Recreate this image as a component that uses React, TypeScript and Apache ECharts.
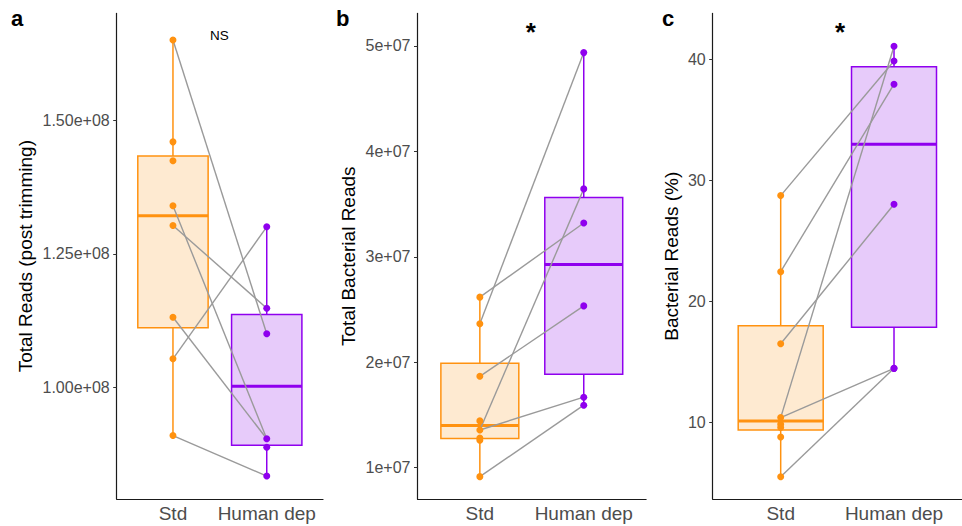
import React, { useEffect, useRef } from "react";
import * as echarts from "echarts";

// ---------- data ----------
const groups = ["Std", "Human dep"];
const groupX = [1, 2];

// panel a: Total Reads (post trimming)
const stdA = [1.651e8, 1.46e8, 1.4245e8, 1.34e8, 1.303e8, 1.131e8, 1.053e8, 0.909e8];
const humA = [1.3006e8, 1.148e8, 1.1e8, 0.903e8, 0.887e8, 0.833e8];
const pairsA = [
  [1.651e8, 1.1e8],
  [1.34e8, 0.903e8],
  [1.303e8, 1.148e8],
  [1.131e8, 0.903e8],
  [1.053e8, 1.3006e8],
  [0.909e8, 0.833e8],
];
const ticksA = [1.0e8, 1.25e8, 1.5e8];
const tickLabelsA = ["1.00e+08", "1.25e+08", "1.50e+08"];

// panel b: Total Bacterial Reads
const stdB = [2.617e7, 2.365e7, 1.866e7, 1.443e7, 1.357e7, 1.28e7, 1.26e7, 0.914e7];
const humB = [4.937e7, 3.644e7, 3.32e7, 2.534e7, 1.668e7, 1.592e7];
const pairsB = [
  [2.617e7, 3.32e7],
  [2.365e7, 4.937e7],
  [1.866e7, 2.534e7],
  [1.357e7, 3.644e7],
  [1.357e7, 1.668e7],
  [0.914e7, 1.592e7],
];
const ticksB = [1e7, 2e7, 3e7, 4e7, 5e7];
const tickLabelsB = ["1e+07", "2e+07", "3e+07", "4e+07", "5e+07"];

// panel c: Bacterial Reads (%)
const stdC = [28.77, 22.48, 16.52, 10.42, 9.86, 9.6, 8.81, 5.53];
const humC = [41.11, 39.9, 37.98, 28.05, 14.49, 14.49];
const pairsC = [
  [28.77, 39.9],
  [22.48, 37.98],
  [16.52, 28.05],
  [10.42, 41.11],
  [10.42, 14.49],
  [5.53, 14.49],
];
const ticksC = [10, 20, 30, 40];
const tickLabelsC = ["10", "20", "30", "40"];

const titles = ["Total Reads (post trimming)", "Total Bacterial Reads", "Bacterial Reads (%)"];
const panelLetters = ["a", "b", "c"];
const annotations = ["NS", "*", "*"];

// ---------- styles ----------
const FONT = "'Liberation Sans', Arial, Helvetica, sans-serif";
const ORANGE = "#FF9210";
const PURPLE = "#8F00EE";
const ORANGE_FILL = "#FEEAD1";
const PURPLE_FILL = "#E7CBFA";
const GREY_LINE = "#9a9a9a";

const panels = [
  { std: stdA, hum: humA, pairs: pairsA, ticks: ticksA, labels: tickLabelsA, min: 0.79e8, max: 1.701e8, left: 116.7, width: 206.3, nameGap: 82 },
  { std: stdB, hum: humB, pairs: pairsB, ticks: ticksB, labels: tickLabelsB, min: 0.702e7, max: 5.309e7, left: 417.5, width: 228.6, nameGap: 60 },
  { std: stdC, hum: humC, pairs: pairsC, ticks: ticksC, labels: tickLabelsC, min: 3.69, max: 43.83, left: 712.7, width: 256.7, nameGap: 32 },
];

function quantile7(vals: number[], p: number) {
  const s = [...vals].sort((a, b) => a - b);
  const h = (s.length - 1) * p;
  const lo = Math.floor(h);
  const hi = Math.ceil(h);
  return s[lo] + (h - lo) * (s[hi] - s[lo]);
}

function boxStats(vals: number[]) {
  const q1 = quantile7(vals, 0.25);
  const med = quantile7(vals, 0.5);
  const q3 = quantile7(vals, 0.75);
  const iqr = q3 - q1;
  const inside = vals.filter((v) => v >= q1 - 1.5 * iqr && v <= q3 + 1.5 * iqr);
  return [Math.min(...inside), q1, med, q3, Math.max(...inside)];
}

export default function App() {
  const ref = useRef<HTMLDivElement>(null);

  useEffect(() => {
    if (!ref.current) return;
    const chart = echarts.init(ref.current, undefined, { renderer: "svg" });

    const grid: any[] = [];
    const xAxis: any[] = [];
    const yAxis: any[] = [];
    const series: any[] = [];

    panels.forEach((p, i) => {
      grid.push({ left: p.left, top: 13.4, width: p.width, height: 485.6, containLabel: false });
      xAxis.push({
        type: "value",
        gridIndex: i,
        min: 0.4,
        max: 2.6,
        splitLine: { show: false },
        axisLine: { show: true, onZero: false, lineStyle: { color: "#1a1a1a", width: 1.2 } },
        axisTick: { show: false },
        axisLabel: {
          customValues: groupX,
          formatter: (v: number) => groups[groupX.indexOf(v)] ?? "",
          color: "#4d4d4d",
          fontSize: 19,
          fontFamily: FONT,
          margin: 5,
        },
      });
      yAxis.push({
        type: "value",
        gridIndex: i,
        min: p.min,
        max: p.max,
        name: titles[i],
        nameLocation: "middle",
        nameGap: p.nameGap,
        nameTextStyle: { color: "#000", fontSize: 19, fontFamily: FONT },
        splitLine: { show: false },
        axisLine: { show: true, onZero: false, lineStyle: { color: "#1a1a1a", width: 1.2 } },
        axisTick: { show: true, customValues: p.ticks, length: 3.5, lineStyle: { color: "#333", width: 1 } },
        axisLabel: {
          customValues: p.ticks,
          formatter: (v: number) => {
            const k = p.ticks.findIndex((t) => Math.abs(t - v) < Math.abs(t) * 1e-9 + 1e-9);
            return k >= 0 ? p.labels[k] : "";
          },
          color: "#4d4d4d",
          fontSize: 16,
          fontFamily: FONT,
          margin: 7,
        },
      });

      const boxData = [
        [groupX[0], ...boxStats(p.std)],
        [groupX[1], ...boxStats(p.hum)],
      ];
      series.push({
        type: "custom",
        xAxisIndex: i,
        yAxisIndex: i,
        z: 1,
        data: boxData,
        encode: { x: 0, y: [1, 2, 3, 4, 5] },
        renderItem: (params: any, api: any) => {
          const x = api.value(0);
          const c = params.dataIndex === 0 ? ORANGE : PURPLE;
          const f = params.dataIndex === 0 ? ORANGE_FILL : PURPLE_FILL;
          const lo = api.coord([x, api.value(1)]);
          const q1 = api.coord([x, api.value(2)]);
          const md = api.coord([x, api.value(3)]);
          const q3 = api.coord([x, api.value(4)]);
          const hi = api.coord([x, api.value(5)]);
          const w = api.size([0.75, 0])[0];
          const cx = lo[0];
          return {
            type: "group",
            children: [
              { type: "line", shape: { x1: cx, y1: q3[1], x2: cx, y2: hi[1] }, style: { stroke: c, lineWidth: 1.5 } },
              { type: "line", shape: { x1: cx, y1: q1[1], x2: cx, y2: lo[1] }, style: { stroke: c, lineWidth: 1.5 } },
              { type: "rect", shape: { x: cx - w / 2, y: q3[1], width: w, height: q1[1] - q3[1] }, style: { fill: f, stroke: c, lineWidth: 1.5 } },
              { type: "line", shape: { x1: cx - w / 2, y1: md[1], x2: cx + w / 2, y2: md[1] }, style: { stroke: c, lineWidth: 3 } },
            ],
          };
        },
      });

      p.pairs.forEach((pr) => {
        series.push({
          type: "line",
          xAxisIndex: i,
          yAxisIndex: i,
          z: 2,
          symbol: "none",
          silent: true,
          lineStyle: { color: GREY_LINE, width: 1.4 },
          data: [
            [groupX[0], pr[0]],
            [groupX[1], pr[1]],
          ],
        });
      });

      series.push({
        type: "scatter",
        xAxisIndex: i,
        yAxisIndex: i,
        z: 3,
        symbolSize: 7,
        itemStyle: { color: ORANGE, opacity: 1 },
        data: p.std.map((v) => [groupX[0], v]),
      });
      series.push({
        type: "scatter",
        xAxisIndex: i,
        yAxisIndex: i,
        z: 3,
        symbolSize: 7,
        itemStyle: { color: PURPLE, opacity: 1 },
        data: p.hum.map((v) => [groupX[1], v]),
      });
    });

    const letterX = [11, 336, 662];
    const annX = [219.4, 530.7, 840];
    const graphic: any[] = [];
    panelLetters.forEach((l, i) => {
      graphic.push({
        type: "text",
        left: letterX[i],
        top: 7,
        style: { text: l, fontSize: 22, fontWeight: "bold", fontFamily: FONT, fill: "#000" },
      });
      const isStar = annotations[i] === "*";
      graphic.push({
        type: "text",
        x: annX[i],
        y: isStar ? 32 : 35,
        style: {
          text: annotations[i],
          fontSize: isStar ? 26 : 13.5,
          fontWeight: isStar ? "bold" : "normal",
          fontFamily: FONT,
          fill: "#000",
          align: "center",
          verticalAlign: "middle",
        },
      });
    });

    chart.setOption({
      animation: false,
      backgroundColor: "#fff",
      grid,
      xAxis,
      yAxis,
      series,
      graphic,
    });

    return () => chart.dispose();
  }, []);

  return (
    <div
      ref={ref}
      style={{ position: "fixed", left: 0, top: 0, width: 962, height: 526 }}
    />
  );
}
